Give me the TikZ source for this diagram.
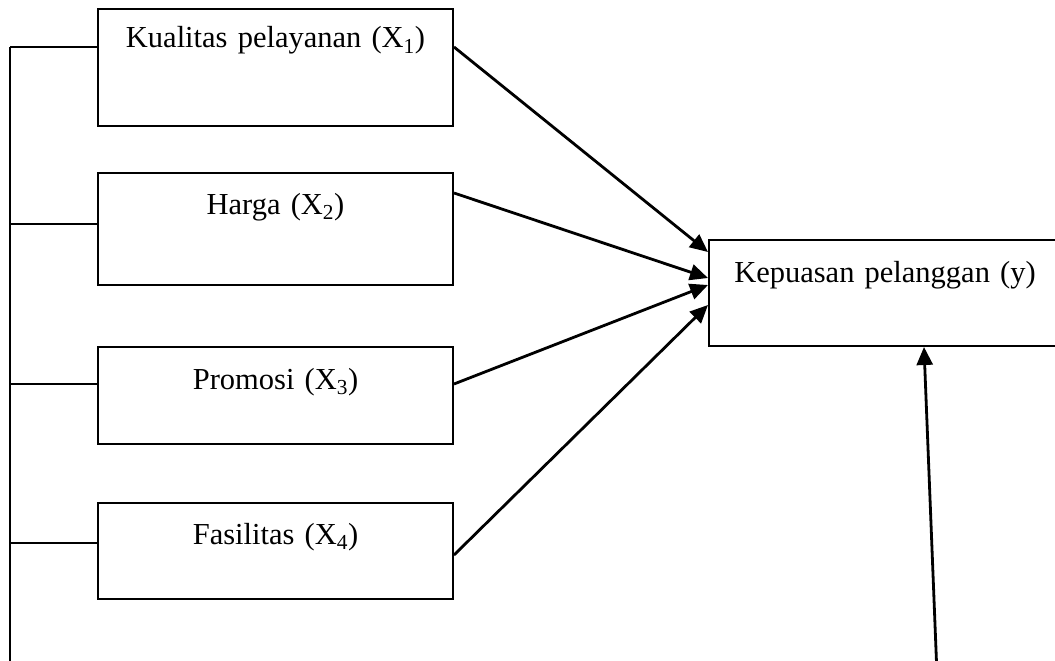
\documentclass[tikz,border=0pt]{standalone}
\usepackage{fontspec}
\setmainfont{Liberation Serif}
\usepackage{tikz}
\usetikzlibrary{arrows.meta}

\begin{document}
\begin{tikzpicture}[
    x = 1pt,
    y = -1pt,
    font = \fontsize{30.5}{36}\selectfont,
    varbox/.style = {
      rectangle,
      draw=black,
      line width=2pt,
      inner sep=0pt,
      text width=355pt,
      align=center,
      anchor=north west
    },
    linkf/.style = {
      draw=black,
      line width=2pt
    },
    arrowf/.style = {
      draw=black,
      line width=2.8pt,
      -{Triangle[length=18pt,width=16pt]}
    }
  ]
    \useasboundingbox (0,0) rectangle (1055,661);
    \clip (0,0) rectangle (1055,661);

    \node[varbox, text height=39pt, text depth=78pt] (kual) at (97,8) {Kualitas pelayanan (X\textsubscript{1})};
    \node[varbox, text height=41pt, text depth=71pt] (harga) at (97,172) {Harga (X\textsubscript{2})};
    \node[varbox, text height=42pt, text depth=55pt] (promo) at (97,346) {Promosi (X\textsubscript{3})};
    \node[varbox, text height=41pt, text depth=55pt] (fasil) at (97,502) {Fasilitas (X\textsubscript{4})};
    \node[varbox, text width=352pt, text height=42pt, text depth=64pt] (puas) at (708,239) {Kepuasan pelanggan (y)};

    % left spine
    \coordinate (s1) at (10,47);
    \coordinate (s2) at (10,224);
    \coordinate (s3) at (10,384);
    \coordinate (s4) at (10,543);
    \coordinate (foot) at (10,675);
    \draw[linkf] (s1) -- (foot);
    \draw[linkf] (s1) -- (s1 -| kual.west);
    \draw[linkf] (s2) -- (s2 -| harga.west);
    \draw[linkf] (s3) -- (s3 -| promo.west);
    \draw[linkf] (s4) -- (s4 -| fasil.west);

    % arrows into y
    \draw[arrowf] (kual.east |- 0,47) -- (puas.west |- 0,252);
    \draw[arrowf] (harga.east |- 0,193) -- (puas.west |- 0,278);
    \draw[arrowf] (promo.east |- 0,384) -- (puas.west |- 0,285);
    \draw[arrowf] (fasil.east |- 0,555) -- (puas.west |- 0,305);

    \coordinate (base) at (937,675);
    \draw[arrowf] (base) -- (puas.south -| 924,0);
  \end{tikzpicture}
\end{document}
